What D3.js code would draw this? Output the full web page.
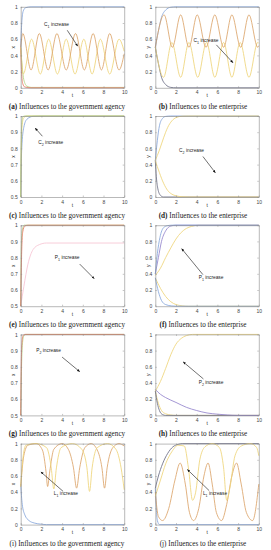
<!DOCTYPE html>
<html>
<head>
<meta charset="utf-8">
<title>Influences</title>
<script src="https://d3js.org/d3.v7.min.js"></script>
<style>
  body { margin: 0; background: #fff; }
  .tick text { font: 5px "Liberation Sans", sans-serif; fill: #444; }
  .cap { font: 7.2px "Liberation Serif", serif; fill: #222; }
  .note { font: 4.8px "Liberation Sans", sans-serif; fill: #222; }
</style>
</head>
<body>
<div id="chart"></div>
<script>
"use strict"

// ticks
var xTicks = [0, 2, 4, 6, 8, 10];
var fullTicks = [0, 0.2, 0.4, 0.6, 0.8, 1];
var halfTicks = [0.5, 0.6, 0.7, 0.8, 0.9, 1];

// (a) C1 -> government agency, x
var aBlue = [[0,0.5],[0.1,0.8],[0.25,0.95],[0.5,0.99],[1,1],[10,1]];
var aRed = [[0,0.5],[0.08,0.2],[0.2,0.05],[0.4,0.01],[1,0],[10,0]];
var aGreen = [[0,0.5],[0.3,0.1],[0.6,0.02],[1,0.005],[10,0.005]];
var aOrange = [[0,0.5],[0.2,0.67],[1.0,0.22],[1.8,0.67],[2.65,0.22],[3.5,0.67],[4.4,0.22],[5.3,0.67],[6.15,0.22],[7.0,0.67],[7.8,0.22],[8.6,0.67],[9.5,0.22],[10,0.42]];
var aYellow = [[0,0.5],[0.25,0.17],[1.05,0.6],[1.9,0.17],[2.7,0.6],[3.55,0.17],[4.4,0.6],[5.25,0.17],[6.1,0.6],[6.9,0.17],[7.7,0.6],[8.6,0.17],[9.5,0.6],[10,0.45]];

// (b) C1 -> enterprise, y
var bBlue = [[0,0.5],[0.3,0.7],[0.6,0.87],[1,0.96],[1.5,0.995],[2,1],[10,1]];
var bDark = [[0,0.5],[0.3,0.3],[0.6,0.13],[1,0.04],[1.5,0.005],[2,0],[10,0]];
var bOrange = [[0,0.5],[0.85,0.9],[1.65,0.5],[2.45,0.9],[3.25,0.5],[4.05,0.9],[4.9,0.5],[5.75,0.9],[6.6,0.5],[7.4,0.9],[8.25,0.5],[9.05,0.9],[9.9,0.5],[10,0.52]];
var bYellow = [[0,0.5],[0.8,0.13],[1.6,0.56],[2.45,0.13],[3.25,0.56],[4.1,0.13],[4.95,0.56],[5.75,0.13],[6.6,0.56],[7.4,0.13],[8.2,0.56],[9.05,0.13],[9.9,0.56],[10,0.55]];

// (c) C2 -> government agency
var cGreen = [[0,0.5],[0.04,0.8],[0.1,0.95],[0.2,0.995],[0.4,1],[10,1]];
var cYellow = [[0,0.5],[0.06,0.8],[0.15,0.95],[0.3,0.99],[0.6,1],[10,1]];
var cBlue = [[0,0.5],[0.1,0.8],[0.3,0.93],[0.6,0.98],[1.2,0.998],[2,1],[10,1]];

// (d) C2 -> enterprise
var dBlueUp = [[0,0.45],[0.2,0.7],[0.4,0.88],[0.7,0.97],[1,0.995],[1.5,1],[10,1]];
var dYellowUp = [[0,0.45],[0.4,0.58],[0.8,0.73],[1.2,0.86],[1.6,0.94],[2,0.98],[2.6,0.998],[3.2,1],[10,1]];
var dYellowDown = [[0,0.45],[0.4,0.3],[0.8,0.17],[1.2,0.08],[1.6,0.035],[2,0.015],[2.6,0.003],[3.2,0],[10,0]];
var dDarkDown = [[0,0.45],[0.1,0.25],[0.25,0.1],[0.5,0.02],[0.8,0],[10,0]];

// (e) P1 -> government agency
var eRed = [[0,0.5],[0.08,0.8],[0.2,0.96],[0.4,0.995],[0.7,1],[10,1]];
var eGreen = [[0,0.5],[0.05,0.85],[0.15,0.97],[0.35,1],[10,1]];
var ePink = [[0,0.5],[0.3,0.62],[0.7,0.76],[1.2,0.85],[1.8,0.88],[2.5,0.89],[10,0.89]];

// (f) P1 -> enterprise
var fBlueUp = [[0,0.4],[0.2,0.65],[0.45,0.85],[0.8,0.97],[1.2,0.995],[1.6,1],[10,1]];
var fDarkUp = [[0,0.4],[0.3,0.6],[0.6,0.8],[1,0.93],[1.5,0.99],[2,1],[10,1]];
var fYellowUp = [[0,0.38],[0.5,0.47],[1,0.6],[1.5,0.72],[2,0.83],[2.5,0.91],[3,0.96],[3.5,0.985],[4.2,1],[10,1]];
var fBlueDown = [[0,0.35],[0.3,0.18],[0.6,0.07],[1,0.02],[1.6,0.003],[2,0],[10,0]];
var fYellowDown = [[0,0.35],[0.5,0.22],[1,0.12],[1.5,0.055],[2,0.02],[2.6,0.005],[3.2,0],[10,0]];

// (g) P2 -> government agency
var gRed = [[0,0.5],[0.05,0.8],[0.12,0.95],[0.25,0.995],[0.4,1],[10,1]];
var gGreen = [[0,0.5],[0.08,0.8],[0.18,0.95],[0.3,0.99],[0.5,1],[10,1]];

// (h) P2 -> enterprise
var hYellowUp = [[0,0.3],[0.5,0.42],[1,0.58],[1.5,0.75],[2,0.88],[2.5,0.95],[3,0.985],[3.6,1],[10,1]];
var hPurple = [[0,0.32],[0.5,0.26],[1,0.22],[2,0.16],[3,0.1],[4,0.06],[5,0.03],[6,0.015],[7,0.005],[8,0],[10,0]];
var hDark = [[0,0.3],[0.2,0.15],[0.4,0.06],[0.7,0.01],[1,0],[10,0]];
var hYellowDown = [[0,0.3],[0.3,0.15],[0.6,0.06],[1,0.02],[1.5,0.005],[2,0],[10,0]];

// (i) L1 -> government agency
var iBlue = [[0,0.5],[0.15,0.25],[0.4,0.12],[0.8,0.05],[1.3,0.02],[2,0.005],[2.5,0],[10,0]];
var iOrange = [[0,0.47],[0.3,0.85],[0.7,0.98],[1.5,1],[2.1,0.92],[2.45,0.65],[2.6,0.47],[2.8,0.65],[3.2,0.93],[4.0,1],[4.6,0.93],[5.1,0.7],[5.4,0.45],[5.7,0.7],[6.2,0.95],[6.8,1],[7.4,0.92],[7.85,0.7],[8.1,0.45],[8.35,0.7],[8.9,0.95],[9.5,1],[10,0.97]];
var iYellow = [[0,0.47],[0.2,0.8],[0.5,0.98],[1.5,1],[2.5,0.95],[2.95,0.7],[3.2,0.44],[3.45,0.7],[3.9,0.95],[5,1],[5.9,0.93],[6.4,0.7],[6.65,0.41],[6.9,0.7],[7.4,0.95],[8.4,1],[9.2,0.93],[9.7,0.7],[10,0.43]];

// (j) L1 -> enterprise
var jBlueUp = [[0,0.45],[0.3,0.6],[0.7,0.75],[1.2,0.88],[1.7,0.96],[2.2,0.99],[2.6,1],[10,1]];
var jBlueDown = [[0,0.45],[0.1,0.2],[0.2,0.05],[0.4,0],[10,0]];
var jYellow = [[0,0.35],[0.5,0.55],[1,0.75],[1.6,0.9],[2.2,0.98],[2.8,0.97],[3.2,0.7],[3.6,0.3],[3.9,0.4],[4.3,0.8],[4.8,0.96],[5.5,1],[6.2,0.95],[6.6,0.7],[6.9,0.3],[7.2,0.45],[7.7,0.85],[8.3,0.97],[9.2,1],[9.8,0.95],[10,0.85]];
var jOrange = [[0,0.4],[0.3,0.1],[0.7,0.05],[1.3,0.2],[1.9,0.55],[2.4,0.76],[2.9,0.5],[3.3,0.15],[3.7,0.05],[4.2,0.2],[4.7,0.6],[5.1,0.76],[5.5,0.5],[5.9,0.15],[6.4,0.05],[6.9,0.25],[7.4,0.6],[7.85,0.76],[8.3,0.5],[8.8,0.15],[9.4,0.05],[10,0.5]];

var C = {
  blue: "#86a6dc", dark: "#6a6d84", purple: "#9384cc", orange: "#dca46a",
  yellow: "#eed47a", green: "#b3d384", red: "#e77a66", pink: "#f7c4d3"
};

var panels = [
  {tag: "a", who: "government agency", v: "x", half: false,
   lines: [[aGreen, C.green], [aRed, C.red], [aBlue, C.blue], [aYellow, C.yellow], [aOrange, C.orange]],
   note: {p: "C", s: "1", t: [2.26, 0.76], from: [4.5, 0.71], to: [5.5, 0.515]}},
  {tag: "b", who: "enterprise", v: "y", half: false,
   lines: [[bDark, C.dark], [bBlue, C.blue], [bYellow, C.yellow], [bOrange, C.orange]],
   note: {p: "C", s: "1", t: [3.7, 0.57], from: [5.9, 0.53], to: [7.5, 0.31]}},
  {tag: "c", who: "government agency", v: "x", half: true,
   lines: [[cBlue, C.blue], [cYellow, C.yellow], [cGreen, C.green]],
   note: {p: "C", s: "2", t: [1.7, 0.83], from: [2.1, 0.875], to: [1.4, 0.925]}},
  {tag: "d", who: "enterprise", v: "y", half: false,
   lines: [[dDarkDown, C.dark], [dYellowDown, C.yellow], [dBlueUp, C.blue], [dYellowUp, C.yellow]],
   note: {p: "C", s: "2", t: [2.3, 0.55], from: [4.6, 0.5], to: [5.8, 0.3]}},
  {tag: "e", who: "government agency", v: "x", half: true,
   lines: [[ePink, C.pink], [eGreen, C.green], [eRed, C.red]],
   note: {p: "P", s: "1", t: [3.3, 0.79], from: [5.7, 0.76], to: [7.1, 0.67]}},
  {tag: "f", who: "enterprise", v: "y", half: false,
   lines: [[fYellowDown, C.yellow], [fBlueDown, C.blue], [fYellowUp, C.yellow], [fDarkUp, C.purple], [fBlueUp, C.blue]],
   note: {p: "P", s: "1", t: [4.2, 0.33], from: [4.6, 0.39], to: [2.55, 0.71]}},
  {tag: "g", who: "government agency", v: "x", half: true,
   lines: [[gGreen, C.green], [gRed, C.red]],
   note: {p: "P", s: "2", t: [1.5, 0.89], from: [4.0, 0.86], to: [5.7, 0.77]}},
  {tag: "h", who: "enterprise", v: "y", half: false,
   lines: [[hYellowDown, C.yellow], [hDark, C.dark], [hPurple, C.purple], [hYellowUp, C.yellow]],
   note: {p: "P", s: "2", t: [4.2, 0.39], from: [4.65, 0.45], to: [2.7, 0.66]}},
  {tag: "i", who: "government agency", v: "x", half: false, plain: true,
   lines: [[iBlue, C.blue], [iOrange, C.orange], [iYellow, C.yellow]],
   note: {p: "L", s: "1", t: [3.2, 0.37], from: [4.1, 0.41], to: [1.95, 0.65]}},
  {tag: "j", who: "enterprise", v: "y", half: false, plain: true,
   lines: [[jBlueDown, C.blue], [jOrange, C.orange], [jBlueUp, C.dark], [jYellow, C.yellow]],
   note: {p: "L", s: "1", t: [4.6, 0.36], from: [5.2, 0.42], to: [3.1, 0.68]}}
];

var W = 271, H = 550;
var svg = d3.select("#chart").append("svg").attr("width", W).attr("height", H);

svg.append("defs").append("marker")
  .attr("id", "head").attr("viewBox", "0 0 10 10")
  .attr("refX", 9).attr("refY", 5)
  .attr("markerWidth", 5).attr("markerHeight", 5)
  .attr("orient", "auto")
  .append("path").attr("d", "M0,1 L10,5 L0,9 Z").attr("fill", "#111");

var colLeft = [20.7, 155.3], colMid = [67, 203];
var pw = 103.5, ph = 81, rowTop = 6.8, rowStep = 109.2;

panels.forEach(function(p, i) {
  var col = i % 2, row = Math.floor(i / 2);
  var g = svg.append("g")
    .attr("transform", "translate(" + colLeft[col] + "," + (rowTop + row * rowStep) + ")");

  var x = d3.scaleLinear().domain([0, 10]).range([0, pw]);
  var y = d3.scaleLinear().domain(p.half ? [0.5, 1] : [0, 1]).range([ph, 0]);
  var yt = p.half ? halfTicks : fullTicks;

  var line = d3.line()
    .x(d => x(d[0])).y(d => y(d[1]))
    .curve(d3.curveMonotoneX);

  g.append("rect").attr("width", pw).attr("height", ph).attr("fill", "#fff");

  g.selectAll(".ln").data(p.lines).enter()
    .append("path")
      .attr("d", d => line(d[0]))
      .attr("fill", "none")
      .attr("stroke", d => d[1])
      .attr("stroke-width", 0.85);

  // box with inward ticks, MATLAB style
  function axisStyle(sel) {
    sel.select(".domain").attr("stroke", "#8a8a8a").attr("stroke-width", 0.6);
    sel.selectAll(".tick line").attr("stroke", "#8a8a8a").attr("stroke-width", 0.5);
  }
  g.append("g").attr("transform", "translate(0," + ph + ")")
    .call(d3.axisBottom(x).tickValues(xTicks).tickSize(-1.5).tickSizeOuter(0).tickPadding(3))
    .call(axisStyle);
  g.append("g")
    .call(d3.axisLeft(y).tickValues(yt).tickSize(-1.5).tickSizeOuter(0).tickPadding(3)
      .tickFormat(d3.format("~g")))
    .call(axisStyle);
  g.append("g")
    .call(d3.axisTop(x).tickValues(xTicks).tickSize(-1.5).tickSizeOuter(0).tickFormat(""))
    .call(axisStyle);
  g.append("g").attr("transform", "translate(" + pw + ",0)")
    .call(d3.axisRight(y).tickValues(yt).tickSize(-1.5).tickSizeOuter(0).tickFormat(""))
    .call(axisStyle);

  // axis names sit between the tick labels
  g.append("text").attr("class", "note")
    .attr("transform", "translate(-5.5," + (ph / 2) + ") rotate(-90)")
    .attr("text-anchor", "middle").text(p.v);
  g.append("text").attr("class", "note")
    .attr("x", pw / 2).attr("y", ph + 9.5)
    .attr("text-anchor", "middle").text("t");

  // annotation
  var n = p.note;
  var lab = g.append("text").attr("class", "note")
    .attr("x", x(n.t[0])).attr("y", y(n.t[1]));
  lab.append("tspan").text(n.p);
  lab.append("tspan").attr("baseline-shift", "sub").attr("font-size", "3.6px").text(n.s);
  lab.append("tspan").text(" increase");
  g.append("line")
    .attr("x1", x(n.from[0])).attr("y1", y(n.from[1]))
    .attr("x2", x(n.to[0])).attr("y2", y(n.to[1]))
    .attr("stroke", "#111").attr("stroke-width", 0.6)
    .attr("marker-end", "url(#head)");

  // caption
  var cap = svg.append("text").attr("class", "cap")
    .attr("x", colMid[col]).attr("y", rowTop + row * rowStep + ph + 21)
    .attr("text-anchor", "middle");
  cap.append("tspan").attr("font-weight", p.plain ? "normal" : "bold").text("(" + p.tag + ")");
  cap.append("tspan").text(" Influences to the " + p.who);
});
</script>
</body>
</html>
